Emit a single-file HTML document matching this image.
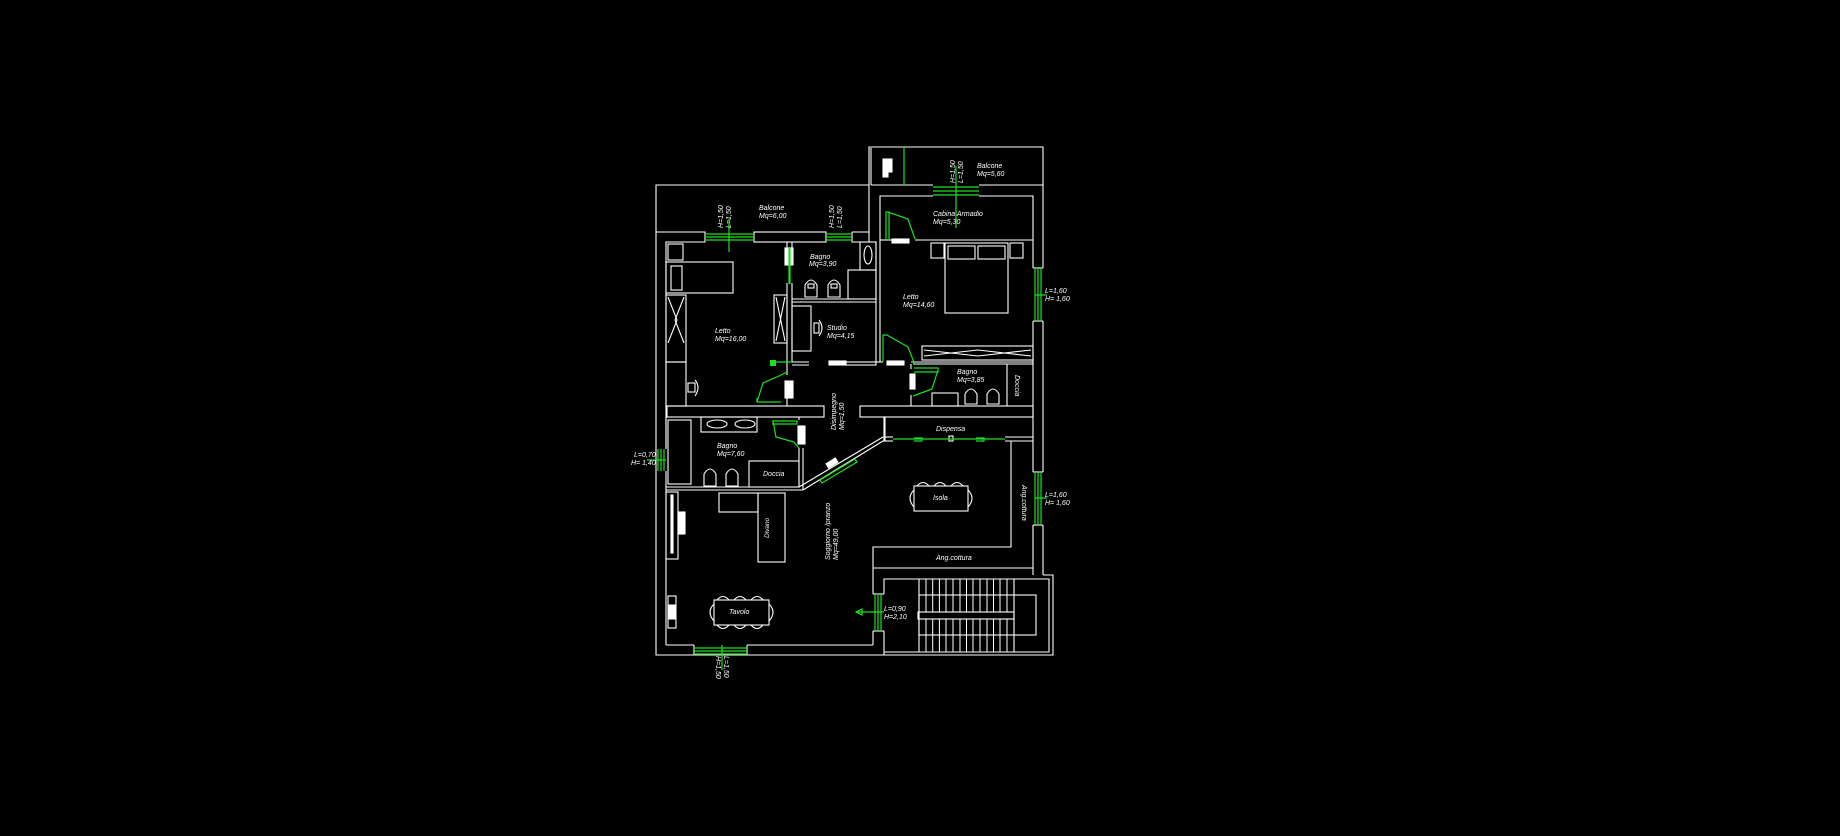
<!DOCTYPE html>
<html><head><meta charset="utf-8"><style>
html,body{margin:0;padding:0;background:#000;}
svg{display:block}
text{font-family:"Liberation Sans",sans-serif;font-style:italic;font-size:7px;fill:#fff}
.g{stroke:#1ee01e;fill:none;stroke-width:1.2}
.w{stroke:#fff;fill:none;stroke-width:1.1}
</style></head><body>
<svg width="1840" height="836" viewBox="0 0 1840 836" xmlns="http://www.w3.org/2000/svg">
<rect width="1840" height="836" fill="#000"/>
<g class="w">
<polyline points="869,185 656,185 656,655 884,655"/>
<polyline points="869,185 869,147 1043,147 1043,268"/>
<line x1="871" y1="148" x2="871" y2="185"/>
<line x1="871" y1="185" x2="904" y2="185"/>
<line x1="904" y1="185" x2="933" y2="185"/>
<line x1="979" y1="185" x2="1043" y2="185"/>
<polyline points="933,196 880,196 880,362"/>
<polyline points="979,196 1033,196 1033,268"/>
<line x1="1043" y1="321" x2="1043" y2="472"/>
<line x1="1033" y1="321" x2="1033" y2="472"/>
<line x1="1033" y1="268" x2="1043" y2="268"/>
<line x1="1033" y1="321" x2="1043" y2="321"/>
<line x1="1043" y1="525" x2="1043" y2="575"/>
<line x1="1033" y1="525" x2="1033" y2="575"/>
<line x1="1033" y1="472" x2="1043" y2="472"/>
<line x1="1033" y1="525" x2="1043" y2="525"/>
<polyline points="1043,575 1053,575 1053,655 884,655"/>
<polyline points="656,232 705,232 705,242 666,242 666,449"/>
<rect x="754" y="232" width="72" height="10"/>
<polyline points="852,232 869,232 869,185"/>
<polyline points="852,232 852,242 876,242"/>
<line x1="869" y1="232" x2="869" y2="242"/>
<line x1="876" y1="242" x2="876" y2="362"/>
<rect x="668" y="244" width="15" height="16"/>
<rect x="666" y="262" width="67" height="31"/>
<rect x="671" y="266" width="11" height="24"/>
<rect x="666" y="295" width="20" height="67"/>
<path d="M668,297 L677,320 L668,343 M684,297 L675,320 L684,343"/>
<rect x="666" y="362" width="20" height="44"/>
<rect x="688" y="383" width="7" height="9"/>
<path d="M695,380 q6,7 0,16"/>
<rect x="774" y="295" width="13" height="48"/>
<path d="M776,297 L785,341 M785,297 L776,341"/>
<line x1="787" y1="242" x2="787" y2="248"/>
<line x1="792" y1="242" x2="792" y2="248"/>
<line x1="787" y1="283" x2="787" y2="375"/>
<line x1="792" y1="283" x2="792" y2="362"/>
<line x1="787" y1="398" x2="787" y2="406"/>
<rect x="785" y="248" width="8" height="17" fill="#fff"/>
<rect x="785" y="381" width="8" height="17" fill="#fff"/>
<line x1="792" y1="299" x2="876" y2="299"/>
<line x1="792" y1="302" x2="876" y2="302"/>
<rect x="860" y="242" width="16" height="28"/>
<ellipse cx="868" cy="255" rx="4" ry="9"/>
<rect x="848" y="270" width="28" height="29"/>
<path d="M805,297 v-12 q6,-10 12,0 v12 z M828,297 v-12 q6,-10 12,0 v12 z"/>
<rect x="808" y="284" width="6" height="4"/><rect x="831" y="284" width="6" height="4"/>
<rect x="792" y="306" width="19" height="45"/>
<rect x="814" y="323" width="5" height="10"/>
<path d="M819,320 q6,8 0,16"/>
<line x1="792" y1="362" x2="809" y2="362"/>
<line x1="792" y1="365" x2="809" y2="365"/>
<rect x="846" y="362" width="30" height="3"/>
<line x1="876" y1="362" x2="880" y2="362"/>
<rect x="829" y="361" width="17" height="4" fill="#fff"/>
<line x1="880" y1="240" x2="892" y2="240"/>
<line x1="915" y1="240" x2="1033" y2="240"/>
<rect x="892" y="239" width="17" height="4" fill="#fff"/>
<rect x="945" y="243" width="63" height="70"/>
<rect x="948" y="246" width="27" height="13"/>
<rect x="978" y="246" width="27" height="13"/>
<rect x="931" y="243" width="13" height="15"/>
<rect x="1010" y="243" width="13" height="15"/>
<rect x="922" y="346" width="111" height="14"/>
<path d="M924,350 L978,356 L1031,350 M924,356 L978,350 L1031,356"/>
<line x1="880" y1="362" x2="883" y2="362"/>
<line x1="911" y1="362" x2="1033" y2="362"/>
<line x1="913" y1="364" x2="1033" y2="364"/>
<rect x="887" y="361" width="17" height="4" fill="#fff"/>
<line x1="911" y1="364" x2="911" y2="369"/>
<line x1="911" y1="395" x2="911" y2="406"/>
<rect x="910" y="374" width="5" height="15" fill="#fff"/>
<line x1="1007" y1="364" x2="1007" y2="406"/>
<rect x="932" y="393" width="26" height="13"/>
<path d="M965,404 v-10 q6,-10 12,0 v10 z M987,404 v-10 q6,-10 12,0 v10 z"/>
<rect x="667" y="406" width="157" height="11"/>
<rect x="860" y="406" width="173" height="11"/>
<line x1="666" y1="417" x2="666" y2="449"/>
<line x1="666" y1="471" x2="666" y2="645"/>
<rect x="668" y="420" width="23" height="64"/>
<rect x="701" y="417" width="56" height="15"/>
<ellipse cx="717" cy="424" rx="10" ry="4"/><ellipse cx="745" cy="424" rx="10" ry="4"/>
<path d="M704,486 v-12 q6,-10 12,0 v12 z M726,486 v-12 q6,-10 12,0 v12 z"/>
<rect x="749" y="461" width="50" height="26"/>
<line x1="799" y1="417" x2="799" y2="420"/>
<line x1="799" y1="448" x2="799" y2="487"/>
<line x1="803" y1="448" x2="803" y2="490"/>
<rect x="798" y="426" width="7" height="18" fill="#fff"/>
<line x1="666" y1="487" x2="799" y2="487"/>
<line x1="666" y1="490" x2="803" y2="490"/>
<line x1="799" y1="487" x2="883" y2="437"/>
<line x1="803" y1="490" x2="883" y2="441"/>
<rect x="884" y="417" width="1" height="24"/>
<line x1="883" y1="437" x2="893" y2="437"/>
<line x1="883" y1="441" x2="893" y2="441"/>
<rect x="949" y="436" width="4" height="5"/>
<line x1="1005" y1="437" x2="1033" y2="437"/>
<line x1="1005" y1="441" x2="1033" y2="441"/>
<polyline points="1011,441 1011,547 873,547 873,594"/>
<line x1="873" y1="568" x2="1033" y2="568"/>
<line x1="873" y1="631" x2="873" y2="645"/>
<polyline points="884,594 884,579 1049,579 1049,652 884,652"/>
<line x1="884" y1="631" x2="884" y2="655"/>
<line x1="873" y1="594" x2="884" y2="594"/>
<line x1="873" y1="631" x2="884" y2="631"/>
<line x1="747" y1="645" x2="873" y2="645"/>
<line x1="666" y1="645" x2="694" y2="645"/>
<line x1="694" y1="645" x2="694" y2="655"/>
<line x1="747" y1="645" x2="747" y2="655"/>
<rect x="919" y="595" width="117" height="40"/>
<rect x="918" y="612" width="96" height="7"/>
<line x1="919" y1="579" x2="919" y2="652"/>
<line x1="1014" y1="579" x2="1014" y2="652"/>
</g>
<g stroke="#fff" stroke-width="1">
<path d="M926,579v33M932.7,579v33M939.4,579v33M946,579v33M953,579v33M960,579v33M966.5,579v33M973,579v33M980,579v33M987,579v33M993.5,579v33M1000,579v33M1007,579v33
M926,619v33M932.7,619v33M939.4,619v33M946,619v33M953,619v33M960,619v33M966.5,619v33M973,619v33M980,619v33M987,619v33M993.5,619v33M1000,619v33M1007,619v33"/>
</g>
<g class="w">
<rect x="666" y="492" width="12" height="67"/>
<rect x="671" y="495" width="2" height="58" fill="#fff"/>
<rect x="678" y="512" width="7" height="22" fill="#fff"/>
<rect x="719" y="493" width="39" height="19"/>
<rect x="758" y="493" width="27" height="69"/>
<rect x="668" y="596" width="8" height="32"/>
<rect x="669" y="605" width="6" height="14" fill="#fff"/>
<rect x="714" y="600" width="55" height="25"/>
<path d="M714,604 q-8,8 0,17 M769,604 q8,8 0,17 M717,600 q6,-7 12,0 M734,600 q6,-7 12,0 M751,600 q6,-7 12,0 M717,625 q6,7 12,0 M734,625 q6,7 12,0 M751,625 q6,7 12,0"/>
<rect x="914" y="486" width="54" height="25"/>
<path d="M914,490 q-8,8 0,17 M968,490 q8,8 0,17 M917,486 q6,-7 12,0 M934,486 q6,-7 12,0 M951,486 q6,-7 12,0"/>
<rect x="883" y="159" width="9" height="13" fill="#fff"/><rect x="883" y="170" width="5" height="7" fill="#fff"/>
</g>
<g class="g">
<path d="M904,147v38"/>
<path d="M933,187h46M933,191h46M933,195h46M956,166v62"/>
<path d="M705,234h49M705,237h49M705,240h49M729,219v33"/>
<path d="M826,234h26M826,237h26M826,240h26"/>
<path d="M1035,268v53M1038,268v53M1041,268v53M1035,295h12"/>
<path d="M658,449v22M661,449v22M664,449v22M647,460h19"/>
<path d="M1035,472v53M1038,472v53M1041,472v53M1035,498h12"/>
<path d="M694,648h53M694,651h53M694,654h53M722,645v25"/>
<path d="M875,594v37M878,594v37M881,594v37M856,612h28M856,612l6,-3v6z"/>
<path d="M893,439h112M914,438h8v3h-8M976,438h8v3h-8"/>
<path d="M789,284v-36M790,284v-36"/>
<path d="M770,362h22"/>
<path d="M886,240v-28h3v28 M888,212 l20,7 l7,20"/>
<path d="M883,362v-27 l4,0 l21,12 l7,18"/>
<path d="M914,368h24v4h-24 M938,370 l-6,19 l-19,7"/>
<path d="M781,402h-24v-4 M757,402 l6,-19 l16,-7 l8,-4"/>
<path d="M772,421h25v3h-25 M773,421 l3,16 l18,5 l5,6"/>
<path d="M820,480 l35,-21 l2,3 l-35,21z"/>
</g>
<rect x="770" y="360" width="6" height="6" fill="#1ee01e"/>
<rect x="826" y="460" width="12" height="6" fill="#fff" transform="rotate(-32 832 463)"/>
<text x="759" y="210">Balcone</text><text x="759" y="218">Mq=6,00</text>
<text x="977" y="168">Balcone</text><text x="977" y="176">Mq=5,60</text>
<text x="933" y="216">Cabina Armadio</text><text x="933" y="224">Mq=5,30</text>
<text x="810" y="259">Bagno</text><text x="809" y="266">Mq=3,90</text>
<text x="715" y="333">Letto</text><text x="715" y="341">Mq=16,00</text>
<text x="827" y="330">Studio</text><text x="827" y="338">Mq=4,15</text>
<text x="903" y="299">Letto</text><text x="903" y="307">Mq=14,60</text>
<text x="957" y="374">Bagno</text><text x="957" y="382">Mq=3,85</text>
<text x="717" y="448">Bagno</text><text x="717" y="456">Mq=7,60</text>
<text x="763" y="476">Doccia</text>
<text x="936" y="431">Dispensa</text>
<text x="933" y="500">Isola</text>
<text x="729" y="614">Tavolo</text>
<text x="936" y="560">Ang.cottura</text>
<text transform="translate(769,538) rotate(-90)" style="font-size:6.5px">Divano</text>
<text transform="translate(830,560) rotate(-90)">Soggiorno /pranzo</text>
<text transform="translate(838,560) rotate(-90)">Mq=49,00</text>
<text transform="translate(836,430) rotate(-90)">Disimpegno</text>
<text transform="translate(844,430) rotate(-90)">Mq=1,50</text>
<text transform="translate(1022,485) rotate(90)">Ang.cottura</text>
<text transform="translate(1015,375) rotate(90)">Doccia</text>
<text x="1045" y="293">L=1,60</text><text x="1045" y="301">H= 1,60</text>
<text x="1045" y="497">L=1,60</text><text x="1045" y="505">H= 1,60</text>
<text x="634" y="457">L=0,70</text><text x="631" y="465">H= 1,40</text>
<text x="884" y="611">L=0,90</text><text x="884" y="619">H=2,10</text>
<text transform="translate(716,656) rotate(90)">H=1,50</text>
<text transform="translate(724,656) rotate(90)">L=1,50</text>
<text transform="translate(723,228) rotate(-90)">H=1,50</text>
<text transform="translate(731,228) rotate(-90)">L=1,50</text>
<text transform="translate(834,228) rotate(-90)">H=1,50</text>
<text transform="translate(842,228) rotate(-90)">L=1,50</text>
<text transform="translate(955,183) rotate(-90)">H=1,50</text>
<text transform="translate(963,183) rotate(-90)">L=1,50</text>
</svg>
</body></html>
